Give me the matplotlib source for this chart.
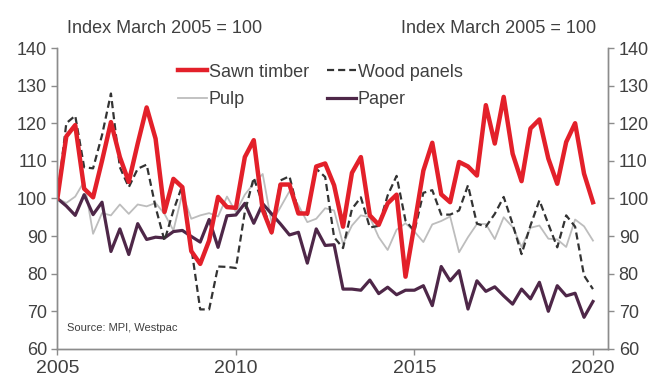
import matplotlib
matplotlib.use("Agg")
import matplotlib.pyplot as plt
import numpy as np

plt.rcParams['font.family'] = ['Liberation Sans', 'DejaVu Sans']

# quarterly, March 2005 to March 2020
start_year = 2005
sawn_timber = [100, 116.5, 119.5, 102.6, 100.3, 110, 120.3, 111, 104.4, 114.6,
               124.2, 115.9, 96.4, 105.2, 103, 86, 82.6, 88.8, 100.4, 97.7,
               97.5, 111, 115.5, 97, 91, 103.7, 103.7, 96, 96, 108.5,
               109.3, 103.5, 92.5, 106.8, 111, 95.5, 93, 98.7, 101, 79.2,
               93, 107.4, 114.8, 101.1, 99, 109.7, 108.5, 106.1, 124.8, 114.6,
               127, 111.9, 104.6, 118.6, 121, 110.6, 103.9, 115, 120, 106.6,
               99]
wood_panels = [100, 120, 122, 108.3, 108, 116.8, 127.9, 108.3, 103, 107.9,
               109, 97.7, 88.8, 96.8, 103.5, 87, 70.5, 70.5, 81.9, 81.8,
               81.5, 96.4, 105.5, 98.6, 90.7, 104.8, 105.9, 96.4, 95.6, 107.9,
               105.7, 89.7, 86.8, 97.2, 100.3, 92.3, 92.7, 100.8, 106, 94.1,
               91.3, 101.5, 102.2, 95.7, 95.7, 96.8, 103.5, 93.3, 92.5, 95.9,
               100.4, 93.2, 85.2, 92.8, 99.5, 93.2, 87, 95.5, 92.5, 79.5,
               75.9]
pulp = [100, 98.8, 100.5, 104.5, 90.6, 96.1, 95.5, 98.4, 95.9, 98.4,
        97.9, 98.8, 95.9, 91.5, 101.3, 94.6, 95.5, 96.1, 95.2, 100.5,
        96.4, 101, 104, 106.5, 93.5, 97.7, 101.9, 98.2, 93.7, 94.6,
        97.4, 96.8, 87.9, 92.8, 95.5, 95, 89.7, 86.3, 91.7, 93.4,
        91.2, 88.4, 93.1, 94, 95.2, 85.7, 89.7, 93.2, 93.2, 89.2,
        95, 92.4, 87.1, 92.2, 92.8, 89.3, 89.1, 87.1, 94.4, 92.6,
        88.8]
paper = [100, 98, 95.5, 101, 95.7, 99, 85.9, 91.9, 85.1, 93.3,
         89.1, 89.7, 89.5, 91.2, 91.5, 89.9, 88.4, 94.4, 87, 95.4,
         95.6, 98.7, 93.4, 98.6, 95.9, 93.2, 90.3, 91, 82.8, 91.9,
         87.5, 87.7, 75.9, 75.9, 75.6, 78.3, 74.7, 76.4, 74.4, 75.6,
         75.6, 76.8, 71.5, 81.9, 78.1, 80.8, 70.6, 78.1, 75.3, 76.5,
         74.1, 71.9, 75.9, 73.3, 77.7, 70, 76.8, 74.1, 74.8, 68.4,
         72.6]

x_ticks = [2005, 2010, 2015, 2020]
y_ticks = [60, 70, 80, 90, 100, 110, 120, 130, 140]

x = start_year + np.arange(len(sawn_timber)) / 4

txt = '#404040'
axis_col = '#8c8c8c'

fig = plt.figure(figsize=(6.52, 3.78), dpi=100)
ax = fig.add_axes([0.088, 0.077, 0.845, 0.796])

ax.plot(x, sawn_timber, color='#e3202a', lw=3.2, label='Sawn timber', zorder=5)
ax.plot(x, pulp, color='#bdbdbd', lw=1.3, label='Pulp', zorder=2)
ax.plot(x, wood_panels, color='#333333', lw=1.6, ls=(0, (3.2, 1.8)), label='Wood panels', zorder=4)
ax.plot(x, paper, color='#4e2748', lw=2.3, label='Paper', zorder=3)

ax.set_xlim(2005, 2020.43)
ax.set_ylim(60, 140)
ax.set_xticks(x_ticks)
ax.set_yticks(y_ticks)

ax2 = ax.twinx()
ax2.set_ylim(60, 140)
ax2.set_yticks(y_ticks)

for a in (ax, ax2):
    a.spines['top'].set_visible(False)
    for s in a.spines.values():
        s.set_color(axis_col)
        s.set_linewidth(1.0)
    a.tick_params(colors=axis_col, labelcolor=txt, labelsize=13, length=4, width=1.0)
ax.tick_params(axis='x', labelsize=14, pad=4)

ax.legend(loc='upper left', bbox_to_anchor=(0.219, 0.948), ncol=2, frameon=False,
          fontsize=13, handlelength=1.6, handletextpad=0.1, columnspacing=1.0,
          labelspacing=0.58, borderpad=0, borderaxespad=0, labelcolor=txt)

fig.text(0.103, 0.925, 'Index March 2005 = 100', fontsize=13, color=txt, va='center')
fig.text(0.914, 0.925, 'Index March 2005 = 100', fontsize=13, color=txt, va='center', ha='right')
ax.text(0.018, 0.06, 'Source: MPI, Westpac', transform=ax.transAxes, fontsize=8, color=txt)

plt.savefig('out.png', dpi=100)
